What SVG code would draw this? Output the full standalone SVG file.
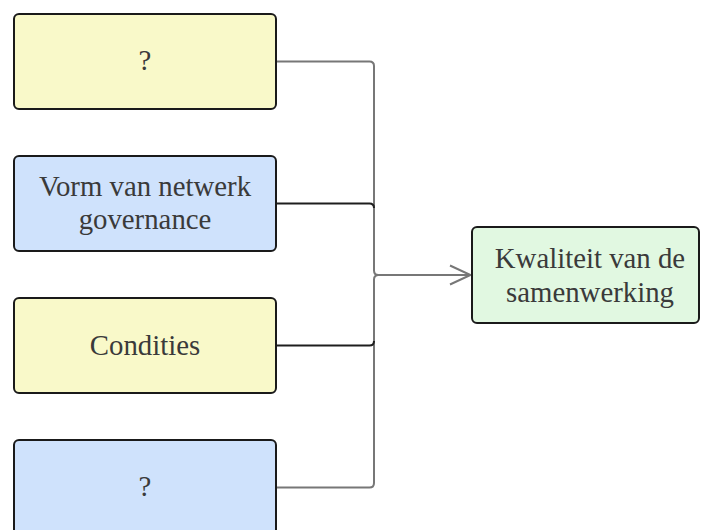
<svg xmlns="http://www.w3.org/2000/svg" width="701" height="530" viewBox="0 0 701 530">
<style>
.box{stroke:#1a1a1a;stroke-width:2;}
.y{fill:#f9f9c9;}
.b{fill:#cfe2fc;}
.g{fill:#e1f8e1;}
text{font-family:"Liberation Serif","Times New Roman",serif;font-size:28.8px;fill:#3a3a3a;text-anchor:middle;}
.grey{fill:none;stroke:#777;stroke-width:2;}
.dark{fill:none;stroke:#1e1e1e;stroke-width:2;}
</style>
<rect width="701" height="530" fill="#fff"/>
<g id="connectors">
<path class="grey" d="M276 61.5 H369.5 Q374 61.5 374 66 V270.5 Q374 275 378.5 275"/>
<path class="grey" d="M276 487.5 H369.5 Q374 487.5 374 483 V279.5 Q374 275 378.5 275"/>
<path class="dark" d="M276 203.5 H369.5 Q374 203.5 374 208"/>
<path class="dark" d="M276 345.5 H369.5 Q374 345.5 374 341"/>
<path class="grey" d="M378 275 H470"/>
<path class="grey" d="M450 265.5 L470.5 275 L450 284.5"/>
</g>
<g id="n1"><rect class="box y" x="14" y="14" width="262" height="95" rx="5"/><text x="145" y="70">?</text></g>
<g id="n2"><rect class="box b" x="14" y="156" width="262" height="95" rx="5"/><text x="145" y="195.7">Vorm van netwerk</text><text x="145" y="229">governance</text></g>
<g id="n3"><rect class="box y" x="14" y="298" width="262" height="95" rx="5"/><text x="145" y="354.5">Condities</text></g>
<g id="n4"><rect class="box b" x="14" y="440" width="262" height="100" rx="5"/><text x="145" y="496">?</text></g>
<g id="n5"><rect class="box g" x="472" y="227" width="227" height="96" rx="5"/><text x="590" y="268.3">Kwaliteit van de</text><text x="590" y="301.7">samenwerking</text></g>
</svg>
